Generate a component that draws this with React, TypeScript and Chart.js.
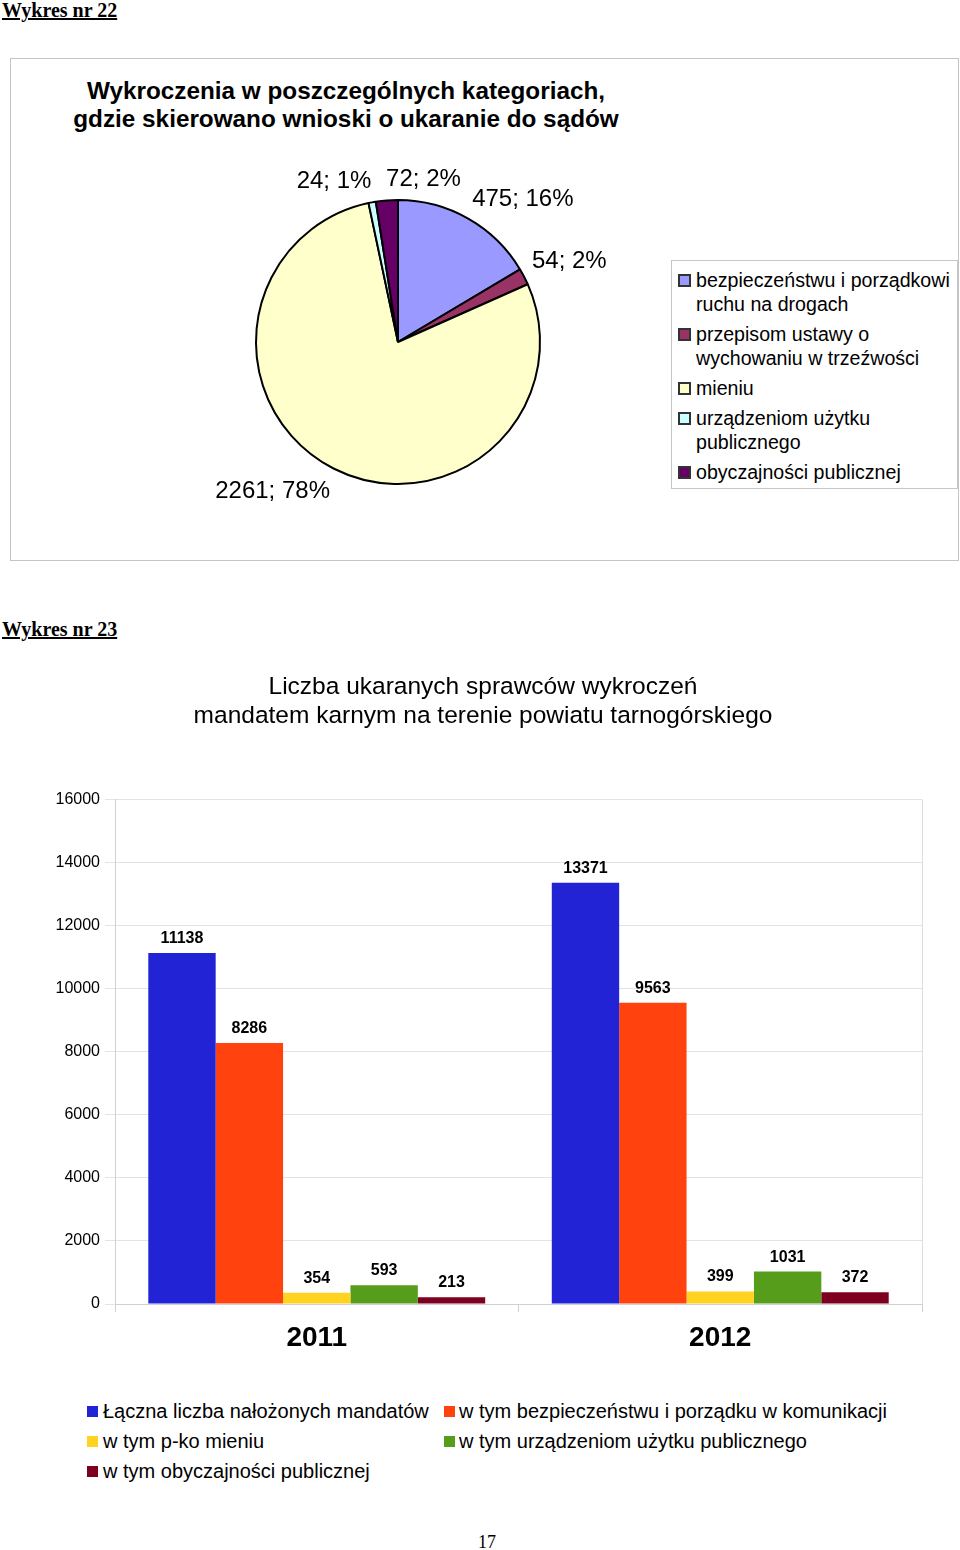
import React, { useEffect, useRef } from "react";
import { Chart, registerables } from "chart.js";

Chart.register(...registerables);

const SANS = '"Liberation Sans", Arial, Helvetica, sans-serif';
const SERIF = '"Liberation Serif", "Times New Roman", serif';

// ---- Chart 22 (pie) ----
const pieTitle = ["Wykroczenia w poszczególnych kategoriach,", "gdzie skierowano wnioski o ukaranie do sądów"];
const pieCategories = [
  "bezpieczeństwu i porządkowi ruchu na drogach",
  "przepisom ustawy o wychowaniu w trzeźwości",
  "mieniu",
  "urządzeniom użytku publicznego",
  "obyczajności publicznej",
];
const pieValues = [475, 54, 2261, 24, 72];
const pieColors = ["#9999FF", "#993366", "#FFFFCC", "#CCFFFF", "#660066"];

// ---- Chart 23 (bars) ----
const barTitle = ["Liczba ukaranych sprawców wykroczeń", "mandatem karnym na terenie powiatu tarnogórskiego"];
const years = ["2011", "2012"];
const seriesNames = [
  "Łączna liczba nałożonych mandatów",
  "w tym bezpieczeństwu i porządku w komunikacji",
  "w tym p-ko mieniu",
  "w tym urządzeniom użytku publicznego",
  "w tym obyczajności publicznej",
];
const totalFines = [11138, 13371];
const trafficFines = [8286, 9563];
const propertyFines = [354, 399];
const publicDeviceFines = [593, 1031];
const decencyFines = [213, 372];
const barSeriesValues = [totalFines, trafficFines, propertyFines, publicDeviceFines, decencyFines];
const barColors = ["#2323D6", "#FF420E", "#FFD320", "#579D1C", "#7E0021"];
const yMin = 0;
const yMax = 16000;
const yStep = 2000;

const pieLabelPlugin = {
  id: "pieLabels",
  afterDatasetsDraw(chart: any) {
    const ctx = chart.ctx;
    const meta = chart.getDatasetMeta(0);
    const data = chart.data.datasets[0].data as number[];
    const total = data.reduce((a, b) => a + b, 0);
    ctx.save();
    ctx.font = `24px ${SANS}`;
    ctx.fillStyle = "#000";
    ctx.textAlign = "left";
    ctx.textBaseline = "alphabetic";
    const placed: { left: number; top: number; w: number; h: number }[] = [];
    meta.data.forEach((arc: any, i: number) => {
      const { x, y, startAngle, endAngle, outerRadius } = arc.getProps(
        ["x", "y", "startAngle", "endAngle", "outerRadius"],
        true
      );
      const mid = (startAngle + endAngle) / 2;
      const ax = x + Math.cos(mid) * (outerRadius + 10);
      const ay = y + Math.sin(mid) * (outerRadius + 10);
      const text = `${data[i]}; ${Math.round((data[i] / total) * 100)}%`;
      const w = ctx.measureText(text).width;
      const h = 24;
      const right = Math.cos(mid) >= 0;
      let left = right ? ax - 1 : ax - w + 1;
      const top = Math.sin(mid) < 0 ? ay - h - 2 : ay - 1;
      const overlaps = (l: number) =>
        placed.some((p) => l < p.left + p.w && l + w > p.left && top < p.top + p.h && top + h > p.top);
      if (overlaps(left)) left = right ? ax - w : ax;
      placed.push({ left, top, w, h });
      ctx.fillText(text, left, top + 21.7);
    });
    ctx.restore();
  },
};

const barValuePlugin = {
  id: "barValues",
  afterDatasetsDraw(chart: any) {
    const ctx = chart.ctx;
    ctx.save();
    ctx.font = `bold 16px ${SANS}`;
    ctx.textAlign = "center";
    ctx.textBaseline = "alphabetic";
    ctx.fillStyle = "#000";
    chart.data.datasets.forEach((ds: any, di: number) => {
      const meta = chart.getDatasetMeta(di);
      meta.data.forEach((bar: any, i: number) => {
        const { x, y } = bar.getProps(["x", "y"], true);
        ctx.fillText(String(ds.data[i]), x, y - 10);
      });
    });
    ctx.restore();
  },
};

const plotFramePlugin = {
  id: "plotFrame",
  beforeDatasetsDraw(chart: any) {
    const { ctx, chartArea } = chart;
    ctx.save();
    ctx.strokeStyle = "#dcdcdc";
    ctx.lineWidth = 1;
    ctx.beginPath();
    ctx.moveTo(Math.round(chartArea.right) + 0.5, chartArea.top);
    ctx.lineTo(Math.round(chartArea.right) + 0.5, chartArea.bottom);
    ctx.stroke();
    ctx.restore();
  },
};

function PieChart() {
  const ref = useRef<HTMLCanvasElement>(null);
  useEffect(() => {
    if (!ref.current) return;
    const chart = new Chart(ref.current, {
      type: "pie",
      data: {
        labels: pieCategories,
        datasets: [
          {
            data: pieValues,
            backgroundColor: pieColors,
            borderColor: "#000",
            borderWidth: 2,
          },
        ],
      },
      options: {
        responsive: false,
        animation: false,
        events: [],
        layout: { padding: { left: 237, right: 133, top: 140, bottom: 74 } },
        plugins: {
          legend: { display: false },
          tooltip: { enabled: false },
          title: { display: false },
        },
      },
      plugins: [pieLabelPlugin],
    } as any);
    return () => chart.destroy();
  }, []);
  return (
    <canvas
      ref={ref}
      width={670}
      height={500}
      style={{ position: "absolute", left: 11, top: 59, width: 670, height: 500 }}
    />
  );
}

function BarChart() {
  const ref = useRef<HTMLCanvasElement>(null);
  useEffect(() => {
    if (!ref.current) return;
    const chart = new Chart(ref.current, {
      type: "bar",
      data: {
        labels: years,
        datasets: seriesNames.map((name, i) => ({
          label: name,
          data: barSeriesValues[i],
          backgroundColor: barColors[i],
          borderWidth: 0,
          categoryPercentage: 0.835,
          barPercentage: 1,
        })),
      },
      options: {
        responsive: false,
        animation: false,
        events: [],
        layout: { padding: { left: 44, right: 38, top: 0, bottom: 0 } },
        plugins: {
          legend: { display: false },
          tooltip: { enabled: false },
          title: {
            display: true,
            text: barTitle,
            color: "#000",
            font: { family: SANS, size: 24.5, weight: "normal", lineHeight: 1.18 },
            padding: { top: 13, bottom: 69 },
          },
        },
        scales: {
          x: {
            grid: { drawOnChartArea: false, drawTicks: true, tickLength: 8, color: "#d0d0d0", offset: true },
            border: { display: true, color: "#d0d0d0" },
            ticks: { color: "#000", font: { family: SANS, size: 28, weight: "bold" }, padding: 9 },
            afterFit: (s: any) => {
              s.height = 56;
            },
          },
          y: {
            min: yMin,
            max: yMax,
            grid: { color: "#e3e3e3", tickLength: 10 },
            border: { display: true, color: "#d0d0d0" },
            ticks: {
              stepSize: yStep,
              color: "#000",
              font: { family: SANS, size: 16 },
              padding: 5,
              callback: (v: any) => String(v),
            },
            afterFit: (s: any) => {
              s.width = 71;
            },
          },
        },
      },
      plugins: [plotFramePlugin, barValuePlugin],
    } as any);
    return () => chart.destroy();
  }, []);
  return (
    <canvas
      ref={ref}
      width={960}
      height={700}
      style={{ position: "absolute", left: 0, top: 660, width: 960, height: 700 }}
    />
  );
}

export default function App() {
  const heading: React.CSSProperties = {
    position: "absolute",
    left: 2,
    fontFamily: SERIF,
    fontWeight: "bold",
    fontSize: 20,
    lineHeight: "22px",
    textDecoration: "underline",
    color: "#000",
    margin: 0,
  };
  return (
    <div
      style={{
        position: "absolute",
        left: 0,
        top: 0,
        width: 960,
        height: 1550,
        background: "#fff",
        fontFamily: SANS,
        color: "#000",
      }}
    >
      <div style={{ ...heading, top: -1 }}>Wykres nr 22</div>

      <div
        style={{
          position: "absolute",
          left: 10,
          top: 58,
          width: 949,
          height: 503,
          boxSizing: "border-box",
          border: "1px solid #c4c4c4",
        }}
      />
      <div
        style={{
          position: "absolute",
          left: 11,
          top: 77,
          width: 670,
          textAlign: "center",
          fontFamily: SANS,
          fontWeight: "bold",
          fontSize: 24.3,
          lineHeight: "28px",
        }}
      >
        {pieTitle.map((t, i) => (
          <div key={i}>{t}</div>
        ))}
      </div>
      <PieChart />
      <div
        style={{
          position: "absolute",
          left: 671,
          top: 260,
          width: 287,
          height: 229,
          boxSizing: "border-box",
          border: "1px solid #c6c6c6",
          background: "#fff",
          padding: "7px 0 0 6px",
          fontFamily: SANS,
          fontSize: 19.6,
          lineHeight: "24px",
        }}
      >
        {pieCategories.map((c, i) => (
          <div key={i} style={{ display: "flex", alignItems: "flex-start", marginBottom: 6 }}>
            <span
              style={{
                flex: "0 0 auto",
                width: 13,
                height: 13,
                boxSizing: "border-box",
                border: "2px solid #333",
                background: pieColors[i],
                marginTop: 5.5,
                marginRight: 5,
              }}
            />
            <span>{c}</span>
          </div>
        ))}
      </div>

      <div style={{ ...heading, top: 618 }}>Wykres nr 23</div>
      <BarChart />

      <div
        style={{
          position: "absolute",
          left: 87,
          top: 1396,
          width: 860,
          display: "grid",
          gridTemplateColumns: "357px auto",
          fontFamily: SANS,
          fontSize: 20,
          lineHeight: "30px",
        }}
      >
        {seriesNames.map((n, i) => (
          <div key={i} style={{ display: "flex", alignItems: "center", whiteSpace: "nowrap" }}>
            <span
              style={{
                flex: "0 0 auto",
                width: 11,
                height: 11,
                background: barColors[i],
                marginRight: i % 2 === 0 ? 5 : 4,
              }}
            />
            <span>{n}</span>
          </div>
        ))}
      </div>

      <div
        style={{
          position: "absolute",
          left: 478,
          top: 1531,
          fontFamily: SERIF,
          fontSize: 18,
          lineHeight: "22px",
        }}
      >
        17
      </div>
    </div>
  );
}
